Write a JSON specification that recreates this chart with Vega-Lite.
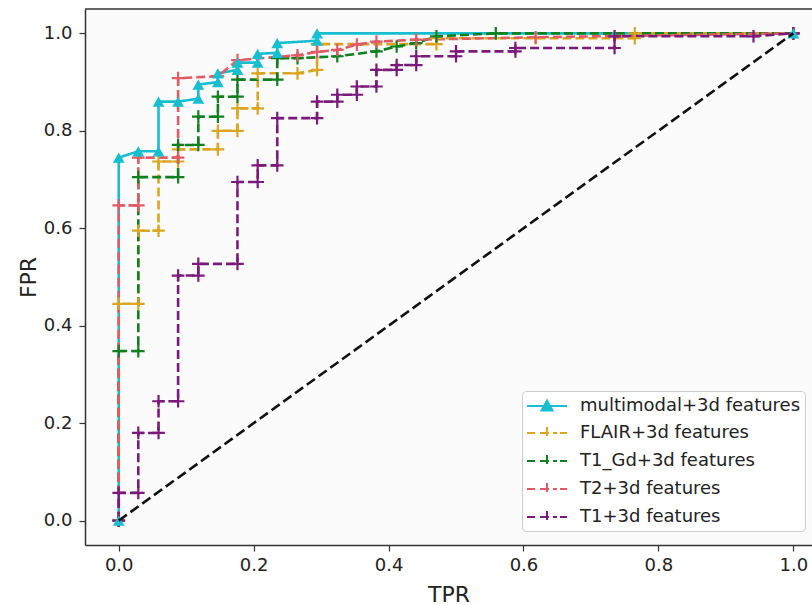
{
  "$schema": "https://vega.github.io/schema/vega-lite/v6.json",
  "width": 727,
  "height": 536,
  "autosize": {"type": "none"},
  "padding": {"left": 85, "top": 9, "right": 0, "bottom": 60},
  "background": "white",
  "config": {
    "view": {"stroke": null, "fill": "#fbfbfb"},
    "font": "DejaVu Sans",
    "axis": {
      "grid": false,
      "domainColor": "#333333",
      "domainWidth": 1.5,
      "tickColor": "#333333",
      "tickWidth": 1.2,
      "tickSize": 6,
      "labelFont": "DejaVu Sans",
      "labelFontSize": 18,
      "labelColor": "#222222",
      "titleFont": "DejaVu Sans",
      "titleFontSize": 22,
      "titleFontWeight": "normal",
      "titleColor": "#222222"
    }
  },
  "datasets": {
    "roc": [
      {"series": "multimodal+3d features", "i": 0, "x": 0, "y": 0},
      {"series": "multimodal+3d features", "i": 1, "x": 0, "y": 0.745},
      {"series": "multimodal+3d features", "i": 2, "x": 0.029, "y": 0.758},
      {"series": "multimodal+3d features", "i": 3, "x": 0.059, "y": 0.758},
      {"series": "multimodal+3d features", "i": 4, "x": 0.059, "y": 0.86},
      {"series": "multimodal+3d features", "i": 5, "x": 0.088, "y": 0.86},
      {"series": "multimodal+3d features", "i": 6, "x": 0.118, "y": 0.866},
      {"series": "multimodal+3d features", "i": 7, "x": 0.118, "y": 0.895},
      {"series": "multimodal+3d features", "i": 8, "x": 0.147, "y": 0.9},
      {"series": "multimodal+3d features", "i": 9, "x": 0.147, "y": 0.918},
      {"series": "multimodal+3d features", "i": 10, "x": 0.176, "y": 0.925},
      {"series": "multimodal+3d features", "i": 11, "x": 0.176, "y": 0.94},
      {"series": "multimodal+3d features", "i": 12, "x": 0.206, "y": 0.94},
      {"series": "multimodal+3d features", "i": 13, "x": 0.206, "y": 0.958},
      {"series": "multimodal+3d features", "i": 14, "x": 0.235, "y": 0.96},
      {"series": "multimodal+3d features", "i": 15, "x": 0.235, "y": 0.98},
      {"series": "multimodal+3d features", "i": 16, "x": 0.294, "y": 0.985},
      {"series": "multimodal+3d features", "i": 17, "x": 0.294, "y": 1.0},
      {"series": "multimodal+3d features", "i": 18, "x": 1.0, "y": 1.0},

      {"series": "FLAIR+3d features", "i": 0, "x": 0, "y": 0},
      {"series": "FLAIR+3d features", "i": 1, "x": 0, "y": 0.445},
      {"series": "FLAIR+3d features", "i": 2, "x": 0.029, "y": 0.445},
      {"series": "FLAIR+3d features", "i": 3, "x": 0.029, "y": 0.595},
      {"series": "FLAIR+3d features", "i": 4, "x": 0.059, "y": 0.595},
      {"series": "FLAIR+3d features", "i": 5, "x": 0.059, "y": 0.737},
      {"series": "FLAIR+3d features", "i": 6, "x": 0.088, "y": 0.737},
      {"series": "FLAIR+3d features", "i": 7, "x": 0.088, "y": 0.762},
      {"series": "FLAIR+3d features", "i": 8, "x": 0.147, "y": 0.762},
      {"series": "FLAIR+3d features", "i": 9, "x": 0.147, "y": 0.8},
      {"series": "FLAIR+3d features", "i": 10, "x": 0.176, "y": 0.8},
      {"series": "FLAIR+3d features", "i": 11, "x": 0.176, "y": 0.846},
      {"series": "FLAIR+3d features", "i": 12, "x": 0.206, "y": 0.846},
      {"series": "FLAIR+3d features", "i": 13, "x": 0.206, "y": 0.918},
      {"series": "FLAIR+3d features", "i": 14, "x": 0.265, "y": 0.918},
      {"series": "FLAIR+3d features", "i": 15, "x": 0.294, "y": 0.925},
      {"series": "FLAIR+3d features", "i": 16, "x": 0.294, "y": 0.978},
      {"series": "FLAIR+3d features", "i": 17, "x": 0.471, "y": 0.978},
      {"series": "FLAIR+3d features", "i": 18, "x": 0.471, "y": 0.99},
      {"series": "FLAIR+3d features", "i": 19, "x": 0.618, "y": 0.99},
      {"series": "FLAIR+3d features", "i": 20, "x": 0.765, "y": 0.99},
      {"series": "FLAIR+3d features", "i": 21, "x": 0.765, "y": 1.0},
      {"series": "FLAIR+3d features", "i": 22, "x": 1.0, "y": 1.0},

      {"series": "T1_Gd+3d features", "i": 0, "x": 0, "y": 0},
      {"series": "T1_Gd+3d features", "i": 1, "x": 0, "y": 0.348},
      {"series": "T1_Gd+3d features", "i": 2, "x": 0.029, "y": 0.348},
      {"series": "T1_Gd+3d features", "i": 3, "x": 0.029, "y": 0.705},
      {"series": "T1_Gd+3d features", "i": 4, "x": 0.088, "y": 0.705},
      {"series": "T1_Gd+3d features", "i": 5, "x": 0.088, "y": 0.771},
      {"series": "T1_Gd+3d features", "i": 6, "x": 0.118, "y": 0.771},
      {"series": "T1_Gd+3d features", "i": 7, "x": 0.118, "y": 0.829},
      {"series": "T1_Gd+3d features", "i": 8, "x": 0.147, "y": 0.829},
      {"series": "T1_Gd+3d features", "i": 9, "x": 0.147, "y": 0.87},
      {"series": "T1_Gd+3d features", "i": 10, "x": 0.176, "y": 0.87},
      {"series": "T1_Gd+3d features", "i": 11, "x": 0.176, "y": 0.905},
      {"series": "T1_Gd+3d features", "i": 12, "x": 0.235, "y": 0.905},
      {"series": "T1_Gd+3d features", "i": 13, "x": 0.235, "y": 0.949},
      {"series": "T1_Gd+3d features", "i": 14, "x": 0.265, "y": 0.949},
      {"series": "T1_Gd+3d features", "i": 15, "x": 0.324, "y": 0.953},
      {"series": "T1_Gd+3d features", "i": 16, "x": 0.382, "y": 0.963},
      {"series": "T1_Gd+3d features", "i": 17, "x": 0.412, "y": 0.973},
      {"series": "T1_Gd+3d features", "i": 18, "x": 0.441, "y": 0.98},
      {"series": "T1_Gd+3d features", "i": 19, "x": 0.471, "y": 0.994},
      {"series": "T1_Gd+3d features", "i": 20, "x": 0.559, "y": 1.0},
      {"series": "T1_Gd+3d features", "i": 21, "x": 1.0, "y": 1.0},

      {"series": "T2+3d features", "i": 0, "x": 0, "y": 0},
      {"series": "T2+3d features", "i": 1, "x": 0, "y": 0.647},
      {"series": "T2+3d features", "i": 2, "x": 0.029, "y": 0.647},
      {"series": "T2+3d features", "i": 3, "x": 0.029, "y": 0.745},
      {"series": "T2+3d features", "i": 4, "x": 0.088, "y": 0.745},
      {"series": "T2+3d features", "i": 5, "x": 0.088, "y": 0.908},
      {"series": "T2+3d features", "i": 6, "x": 0.147, "y": 0.912},
      {"series": "T2+3d features", "i": 7, "x": 0.176, "y": 0.945},
      {"series": "T2+3d features", "i": 8, "x": 0.265, "y": 0.955},
      {"series": "T2+3d features", "i": 9, "x": 0.294, "y": 0.962},
      {"series": "T2+3d features", "i": 10, "x": 0.324, "y": 0.966},
      {"series": "T2+3d features", "i": 11, "x": 0.353, "y": 0.977},
      {"series": "T2+3d features", "i": 12, "x": 0.382, "y": 0.983},
      {"series": "T2+3d features", "i": 13, "x": 0.441, "y": 0.987},
      {"series": "T2+3d features", "i": 14, "x": 0.618, "y": 0.992},
      {"series": "T2+3d features", "i": 15, "x": 1.0, "y": 1.0},

      {"series": "T1+3d features", "i": 0, "x": 0, "y": 0},
      {"series": "T1+3d features", "i": 1, "x": 0, "y": 0.057},
      {"series": "T1+3d features", "i": 2, "x": 0.029, "y": 0.057},
      {"series": "T1+3d features", "i": 3, "x": 0.029, "y": 0.18},
      {"series": "T1+3d features", "i": 4, "x": 0.059, "y": 0.18},
      {"series": "T1+3d features", "i": 5, "x": 0.059, "y": 0.245},
      {"series": "T1+3d features", "i": 6, "x": 0.088, "y": 0.245},
      {"series": "T1+3d features", "i": 7, "x": 0.088, "y": 0.503},
      {"series": "T1+3d features", "i": 8, "x": 0.118, "y": 0.503},
      {"series": "T1+3d features", "i": 9, "x": 0.118, "y": 0.527},
      {"series": "T1+3d features", "i": 10, "x": 0.176, "y": 0.527},
      {"series": "T1+3d features", "i": 11, "x": 0.176, "y": 0.695},
      {"series": "T1+3d features", "i": 12, "x": 0.206, "y": 0.695},
      {"series": "T1+3d features", "i": 13, "x": 0.206, "y": 0.729},
      {"series": "T1+3d features", "i": 14, "x": 0.235, "y": 0.729},
      {"series": "T1+3d features", "i": 15, "x": 0.235, "y": 0.826},
      {"series": "T1+3d features", "i": 16, "x": 0.294, "y": 0.826},
      {"series": "T1+3d features", "i": 17, "x": 0.294, "y": 0.86},
      {"series": "T1+3d features", "i": 18, "x": 0.324, "y": 0.86},
      {"series": "T1+3d features", "i": 19, "x": 0.324, "y": 0.874},
      {"series": "T1+3d features", "i": 20, "x": 0.353, "y": 0.874},
      {"series": "T1+3d features", "i": 21, "x": 0.353, "y": 0.891},
      {"series": "T1+3d features", "i": 22, "x": 0.382, "y": 0.891},
      {"series": "T1+3d features", "i": 23, "x": 0.382, "y": 0.925},
      {"series": "T1+3d features", "i": 24, "x": 0.412, "y": 0.925},
      {"series": "T1+3d features", "i": 25, "x": 0.412, "y": 0.935},
      {"series": "T1+3d features", "i": 26, "x": 0.441, "y": 0.935},
      {"series": "T1+3d features", "i": 27, "x": 0.441, "y": 0.953},
      {"series": "T1+3d features", "i": 28, "x": 0.5, "y": 0.953},
      {"series": "T1+3d features", "i": 29, "x": 0.5, "y": 0.963},
      {"series": "T1+3d features", "i": 30, "x": 0.588, "y": 0.963},
      {"series": "T1+3d features", "i": 31, "x": 0.588, "y": 0.97},
      {"series": "T1+3d features", "i": 32, "x": 0.735, "y": 0.97},
      {"series": "T1+3d features", "i": 33, "x": 0.735, "y": 0.994},
      {"series": "T1+3d features", "i": 34, "x": 0.941, "y": 0.994},
      {"series": "T1+3d features", "i": 35, "x": 1.0, "y": 1.0}
    ],
    "diag": [
      {"x": 0, "y": 0},
      {"x": 1, "y": 1}
    ]
  },
  "layer": [
    {
      "data": {"name": "roc"},
      "mark": {"type": "line", "strokeWidth": 2.6},
      "encoding": {
        "x": {
          "field": "x", "type": "quantitative",
          "scale": {"domain": [-0.05, 1.0277], "nice": false, "zero": false},
          "axis": {"title": "TPR", "values": [0, 0.2, 0.4, 0.6, 0.8, 1.0], "format": ".1f", "labelPadding": 5, "titlePadding": 10}
        },
        "y": {
          "field": "y", "type": "quantitative",
          "scale": {"domain": [-0.05, 1.05], "nice": false, "zero": false},
          "axis": {"title": "FPR", "values": [0, 0.2, 0.4, 0.6, 0.8, 1.0], "format": ".1f", "labelPadding": 7, "titleX": -45, "titleY": 268}
        },
        "order": {"field": "i", "type": "quantitative"},
        "color": {
          "field": "series", "type": "nominal",
          "scale": {
            "domain": ["multimodal+3d features", "FLAIR+3d features", "T1_Gd+3d features", "T2+3d features", "T1+3d features"],
            "range": ["#17becf", "#daa520", "#0f7f1f", "#e15b66", "#7b1a7b"]
          },
          "legend": {
            "orient": "none",
            "legendX": 437,
            "legendY": 382,
            "title": null,
            "labelFont": "DejaVu Sans",
            "labelFontSize": 18,
            "labelColor": "#222222",
            "labelLimit": 0,
            "symbolSize": 400,
            "symbolStrokeWidth": 2,
            "rowPadding": 7,
            "padding": 4,
            "labelOffset": 32,
            "strokeColor": "#cccccc",
            "fillColor": "#ffffff",
            "cornerRadius": 4,
            "encode": {
              "symbols": {
                "update": {
                  "shape": {"signal": "datum.value == 'multimodal+3d features' ? 'M-1,0H3M1,-0.55L1.55,0.45L0.45,0.45Z' : 'M-1,0H-0.2M0.3,0H2M2.3,0H3M1,-0.6V0.6'"},
                  "strokeDash": {"value": [1, 0]},
                  "fill": {"signal": "scale('color', datum.value)"},
                  "fillOpacity": {"value": 1},
                  "strokeWidth": {"value": 2}
                }
              }
            }
          }
        },
        "strokeDash": {
          "field": "series", "type": "nominal",
          "scale": {
            "domain": ["multimodal+3d features", "FLAIR+3d features", "T1_Gd+3d features", "T2+3d features", "T1+3d features"],
            "range": [[1, 0], [9, 4], [9, 4], [9, 4], [9, 4]]
          },
          "legend": null
        }
      }
    },
    {
      "data": {"name": "roc"},
      "transform": [{"filter": "datum.series != 'multimodal+3d features'"}],
      "mark": {"type": "point", "shape": "M-1,0H1M0,-1V1", "filled": false, "size": 160, "strokeWidth": 2.2, "opacity": 1},
      "encoding": {
        "x": {"field": "x", "type": "quantitative"},
        "y": {"field": "y", "type": "quantitative"},
        "color": {"field": "series", "type": "nominal"}
      }
    },
    {
      "data": {"name": "roc"},
      "transform": [{"filter": "datum.series == 'multimodal+3d features'"}],
      "mark": {"type": "point", "shape": "triangle-up", "filled": true, "size": 140, "opacity": 1},
      "encoding": {
        "x": {"field": "x", "type": "quantitative"},
        "y": {"field": "y", "type": "quantitative"},
        "color": {"field": "series", "type": "nominal"}
      }
    },
    {
      "data": {"name": "diag"},
      "mark": {"type": "line", "color": "#111111", "strokeWidth": 2.6, "strokeDash": [10, 4.5]},
      "encoding": {
        "x": {"field": "x", "type": "quantitative"},
        "y": {"field": "y", "type": "quantitative"}
      }
    },
    {
      "data": {"values": [{}]},
      "mark": {"type": "rule", "color": "#333333", "strokeWidth": 1.5},
      "encoding": {
        "y": {"datum": 1.05}
      }
    }
  ]
}
